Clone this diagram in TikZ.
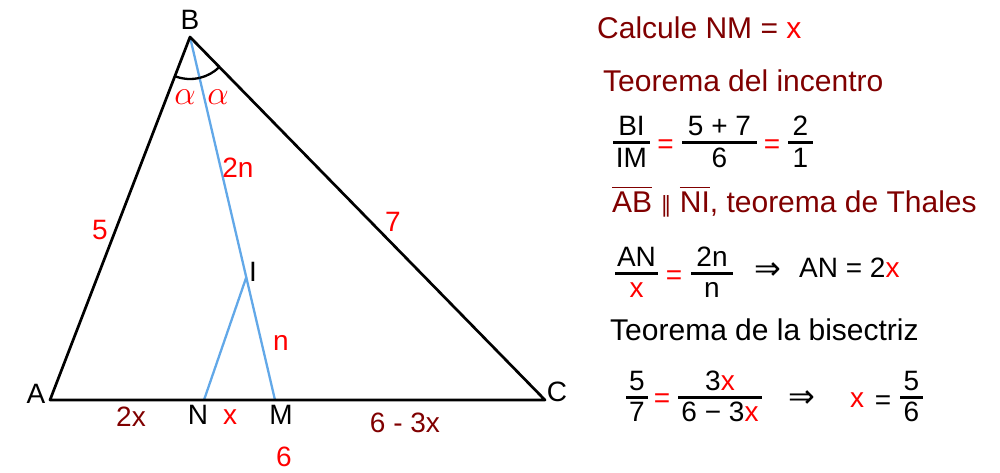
\RequirePackage{fix-cm}
\documentclass[tikz,border=0pt]{standalone}
\usepackage{amsmath}
\usepackage{fontspec}
\usetikzlibrary{calc}
\setmainfont{Liberation Sans}
\newfontfamily\dejavu{DejaVu Sans}
\definecolor{dred}{RGB}{128,0,0}
\definecolor{bred}{RGB}{255,0,0}
\definecolor{lblue}{RGB}{98,168,232}
\newcommand{\rx}{\textcolor{bred}{x}}
% fraction: name, centre x, bar y, half width, numerator, denominator
\newcommand{\frc}[6]{%
  \draw[fbar] (#2-#4,#3) -- (#2+#4,#3);
  \node[ftxt, anchor=base] (#1n) at (#2,#3+7) {#5};
  \node[ftxt, anchor=base] (#1d) at (#2,#3-24) {#6};}
\begin{document}
\begin{tikzpicture}[x=1pt,y=1pt,
  side/.style={line width=2.7pt, black, line join=round, line cap=round},
  ray/.style={line width=2.3pt, lblue},
  anglearc/.style={line width=2.3pt, black},
  vlab/.style={font=\fontsize{28}{32}\selectfont, inner sep=0pt, text=black},
  mlab/.style={font=\fontsize{28}{32}\selectfont, inner sep=0pt, text=bred},
  alab/.style={font=\fontsize{34}{38}\selectfont, inner sep=0pt, text=bred},
  dlab/.style={font=\fontsize{28}{32}\selectfont, inner sep=0pt, text=dred},
  txt/.style={font=\fontsize{30}{34}\selectfont, inner sep=0pt, anchor=base west},
  ftxt/.style={font=\fontsize{28}{32}\selectfont, inner sep=0pt},
  fbar/.style={line width=3pt, black},
  eqs/.style={font=\fontsize{28}{32}\selectfont, inner sep=0pt, anchor=base, text=bred},
  arr/.style={font=\dejavu\fontsize{32}{36}\selectfont, inner sep=0pt}]
\useasboundingbox (0,0) rectangle (1000,472);
% points
\coordinate (B) at (190,435);
\coordinate (A) at (50,72);
\coordinate (C) at (545,72);
\coordinate (M) at (275,72);
\coordinate (N) at (204,72);
\coordinate (I) at ($(B)!0.662!(M)$);
% blue segments
\draw[ray] (B) -- (M);
\draw[ray] (N) -- (I);
% triangle
\draw[side] (A) -- (B) -- (C) -- cycle;
% angle arcs
\draw[anglearc] ($(B)+(248.9:42)$) arc[start angle=248.9, end angle=283.2, radius=42];
\draw[anglearc] ($(B)+(283.2:42)$) arc[start angle=283.2, end angle=314.4, radius=42];
% vertex labels
\node[vlab] (lB) at (190,452) {B};
\node[vlab] (lA) at (36,78) {A};
\node[vlab] (lC) at (557,80) {C};
\node[vlab] (lI) at (253,200) {I};
\node[vlab] (lN) at (198,57) {N};
\node[vlab] (lM) at (281,57) {M};
% measures
\node[alab] (a1) at (185,375) {$\alpha$};
\node[alab] (a2) at (218,375) {$\alpha$};
\node[mlab] (l2n) at (238,304) {2n};
\node[mlab] (l5) at (100,242) {5};
\node[mlab] (l7) at (393,250) {7};
\node[mlab] (ln) at (281,129) {n};
\node[dlab] (l2x) at (131,55) {2x};
\node[mlab] (lx) at (230,55) {x};
\node[dlab] (l63x) at (405,49) {6 - 3x};
\node[mlab] (l6) at (284,15) {6};
% right text
\node[txt, text=dred] (t1) at (597,433) {Calcule NM = \rx};
\node[txt, text=dred] (t2) at (603,380) {Teorema del incentro};
% incentre equation
\frc{f1}{631.5}{329}{18.5}{BI}{IM}
\node[eqs] (q1) at (665.5,318) {=};
\frc{f2}{719.5}{329}{37.5}{5 + 7}{6}
\node[eqs] (q2) at (772,318) {=};
\frc{f3}{800.5}{329}{12.5}{2}{1}
% Thales
\node[txt, text=dred] (t3) at (612,260) {$\overline{\text{AB}}$ {\dejavu\fontsize{22}{26}\selectfont ∥} $\overline{\text{NI}}$, teorema de Thales};
\frc{f4}{636.5}{199}{21.5}{AN}{\rx}
\node[eqs] (q3) at (674,188) {=};
\frc{f5}{712}{199}{21}{2n}{n}
\node[arr] (r1) at (768,201) {⇒};
\node[ftxt, anchor=base west] (e2b) at (799,195) {AN = 2\rx};
% bisector theorem
\node[txt, text=black] (t4) at (610,132) {Teorema de la bisectriz};
\frc{f6}{637}{75}{11}{5}{7}
\node[eqs] (q4) at (662,65) {=};
\frc{f7}{720}{75}{42}{3\rx}{6 − 3\rx}
\node[arr] (r2) at (802,73) {⇒};
\node[ftxt, anchor=base, text=bred] (xr) at (857,65) {x};
\node[eqs, text=black] (q5) at (883,63) {=};
\frc{f8}{911.5}{75}{11.5}{5}{6}
\end{tikzpicture}
\end{document}
